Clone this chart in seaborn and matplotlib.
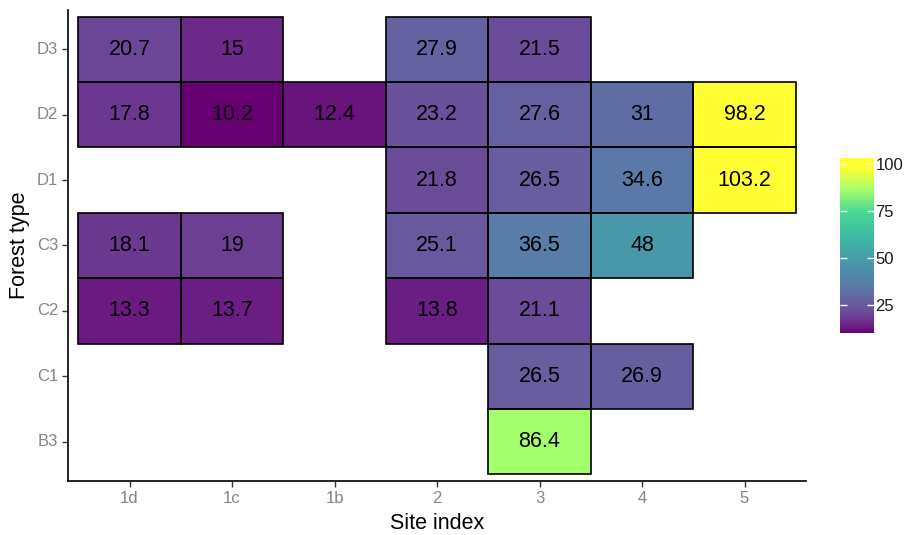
import numpy as np
import pandas as pd
import matplotlib
matplotlib.use("Agg")
import matplotlib.pyplot as plt
from matplotlib.colors import LinearSegmentedColormap
from matplotlib.patches import Rectangle
import seaborn as sns

# Site index classes (x) and forest types (y, top to bottom)
site_index = ["1d", "1c", "1b", "2", "3", "4", "5"]
forest_type = ["D3", "D2", "D1", "C3", "C2", "C1", "B3"]

# Values per forest type, one entry per site index class (NaN = no observation)
d3 = [20.7, 15.0, np.nan, 27.9, 21.5, np.nan, np.nan]
d2 = [17.8, 10.2, 12.4, 23.2, 27.6, 31.0, 98.2]
d1 = [np.nan, np.nan, np.nan, 21.8, 26.5, 34.6, 103.2]
c3 = [18.1, 19.0, np.nan, 25.1, 36.5, 48.0, np.nan]
c2 = [13.3, 13.7, np.nan, 13.8, 21.1, np.nan, np.nan]
c1 = [np.nan, np.nan, np.nan, np.nan, 26.5, 26.9, np.nan]
b3 = [np.nan, np.nan, np.nan, np.nan, 86.4, np.nan, np.nan]

colorbar_ticks = [25, 50, 75, 100]

table = pd.DataFrame([d3, d2, d1, c3, c2, c1, b3],
                     index=forest_type, columns=site_index)

vmin, vmax = np.nanmin(table.values), np.nanmax(table.values)

def pos(v):
    return (v - vmin) / (vmax - vmin)

cmap = LinearSegmentedColormap.from_list(
    "forest_fill",
    [(0.0, "#660070"),
     (pos(15), "#6c2a8a"),
     (pos(21), "#6c4a98"),
     (pos(27), "#6660a0"),
     (pos(35), "#5a7aa8"),
     (pos(48), "#4898aa"),
     (pos(62), "#3cbca2"),
     (pos(75), "#4cd892"),
     (pos(86.4), "#a4ff6c"),
     (pos(98), "#ffff33"),
     (1.0, "#ffff33")])

plt.rcParams["font.family"] = ["Liberation Sans", "DejaVu Sans"]

fig = plt.figure(figsize=(9.06, 5.35), dpi=100)
ax = fig.add_axes([68 / 906, 1 - 481 / 535, 738 / 906, 471 / 535])
cax = fig.add_axes([840 / 906, 1 - 333 / 535, 34 / 906, 175 / 535])

annot = table.map(lambda v: "" if np.isnan(v) else f"{v:g}")

sns.heatmap(table, ax=ax, cbar_ax=cax, cmap=cmap, vmin=vmin, vmax=vmax,
            mask=table.isna(), annot=annot, fmt="",
            annot_kws={"fontsize": 15.5, "color": "black"},
            linewidths=0, cbar_kws={"ticks": colorbar_ticks})

# Outline only the cells that hold a value
rows, cols = np.where(table.notna().values)
for r, c in zip(rows, cols):
    ax.add_patch(Rectangle((c, r), 1, 1, fill=False, edgecolor="black",
                           linewidth=1.2, zorder=3))

ax.set_xlim(-0.1, 7.1)
ax.set_ylim(7.1, -0.1)

for side in ["left", "bottom"]:
    ax.spines[side].set_visible(True)
    ax.spines[side].set_linewidth(1.2)
    ax.spines[side].set_color("black")
for side in ["top", "right"]:
    ax.spines[side].set_visible(False)

ax.set_xticks(np.arange(7) + 0.5)
ax.set_xticklabels(site_index)
ax.set_yticks(np.arange(7) + 0.5)
ax.set_yticklabels(forest_type, rotation=0)
ax.tick_params(axis="both", colors="#333333", labelcolor="#858585",
               labelsize=12, length=4, width=1.0, pad=3)

ax.set_xlabel("Site index", fontsize=15.5, color="black", labelpad=5)
ax.set_ylabel("Forest type", fontsize=15.5, color="black", labelpad=5)

cbar = ax.collections[0].colorbar
cbar.outline.set_visible(False)
cax.tick_params(direction="in", color="white", length=5, width=1.0,
                left=True, right=True, labelsize=12, labelcolor="#1a1a1a",
                pad=1)

fig.savefig("out.png", dpi=100, facecolor="white")
